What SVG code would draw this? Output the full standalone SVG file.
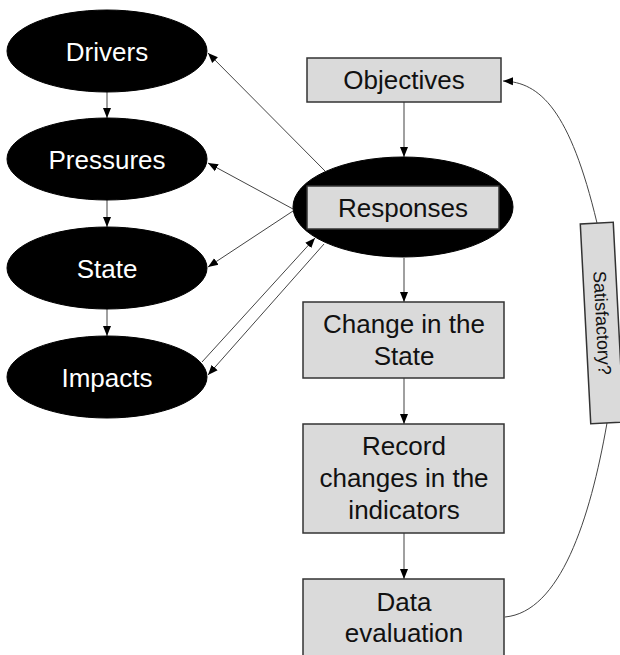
<svg xmlns="http://www.w3.org/2000/svg" width="620" height="655" viewBox="0 0 620 655">
<defs>
<marker id="ah" markerUnits="userSpaceOnUse" markerWidth="10" markerHeight="10" viewBox="0 0 10 10" refX="10" refY="5" orient="auto">
<path d="M0,1 L10,5 L0,9 Z" fill="#000"/>
</marker>
</defs>
<style>
.ell{fill:#000;stroke:#000}
.box{fill:#dadada;stroke:#333;stroke-width:1.5}
.wt{font-family:"Liberation Sans",Arial,sans-serif;font-size:26px;fill:#fff;text-anchor:middle}
.bt{font-family:"Liberation Sans",Arial,sans-serif;font-size:26px;fill:#111;text-anchor:middle}
.v{stroke:#808080;stroke-width:1.5;fill:none;marker-end:url(#ah)}
.d{stroke:#444;stroke-width:1;fill:none;marker-end:url(#ah)}
.c{stroke:#444;stroke-width:1;fill:none}
</style>
<g id="connectors">
<line class="v" x1="107" y1="92" x2="107" y2="118"/>
<line class="v" x1="107" y1="200" x2="107" y2="227"/>
<line class="v" x1="107" y1="309" x2="107" y2="336"/>
<line class="v" x1="404" y1="102" x2="404" y2="157"/>
<line class="v" x1="404" y1="258" x2="404" y2="302"/>
<line class="v" x1="404" y1="378" x2="404" y2="424"/>
<line class="v" x1="404" y1="533" x2="404" y2="579"/>
<line class="d" x1="325" y1="171" x2="208" y2="53"/>
<line class="d" x1="293" y1="209" x2="208" y2="163"/>
<line class="d" x1="293" y1="211" x2="208" y2="267"/>
<line class="d" x1="202" y1="362" x2="315" y2="238"/>
<line class="d" x1="324" y1="244" x2="208" y2="375"/>
<path class="c" d="M505,617 C560,612 590,520 607,423"/>
<path class="d" d="M597,223 C570,110 540,82 503,81"/>
</g>
<g id="drivers"><ellipse class="ell" cx="107" cy="51" rx="100" ry="41"/><text class="wt" x="107" y="61">Drivers</text></g>
<g id="pressures"><ellipse class="ell" cx="107" cy="159" rx="100" ry="41"/><text class="wt" x="107" y="169">Pressures</text></g>
<g id="state"><ellipse class="ell" cx="107" cy="268" rx="100" ry="41"/><text class="wt" x="107" y="278">State</text></g>
<g id="impacts"><ellipse class="ell" cx="107" cy="377" rx="100" ry="41"/><text class="wt" x="107" y="387">Impacts</text></g>
<g id="objectives"><rect class="box" x="307" y="58" width="194" height="44"/><text class="bt" x="404" y="89">Objectives</text></g>
<g id="responses"><ellipse class="ell" cx="403" cy="207" rx="110" ry="50"/><rect class="box" x="307" y="186" width="192" height="43"/><text class="bt" x="403" y="217">Responses</text></g>
<g id="change"><rect class="box" x="303" y="302" width="201" height="76"/><text class="bt" x="404" y="333">Change in the</text><text class="bt" x="404" y="365">State</text></g>
<g id="record"><rect class="box" x="303" y="424" width="201" height="109"/><text class="bt" x="404" y="455">Record</text><text class="bt" x="404" y="487">changes in the</text><text class="bt" x="404" y="519">indicators</text></g>
<g id="data"><rect class="box" x="303" y="579" width="201" height="90"/><text class="bt" x="404" y="611">Data</text><text class="bt" x="404" y="642">evaluation</text></g>
<g id="satisfactory" transform="translate(602,323) rotate(-3)"><rect class="box" x="-16.5" y="-100" width="33" height="200"/><text transform="rotate(90)" x="0" y="6" style="font-family:'Liberation Sans',Arial,sans-serif;font-size:18px;fill:#111;text-anchor:middle">Satisfactory?</text></g>
</svg>
